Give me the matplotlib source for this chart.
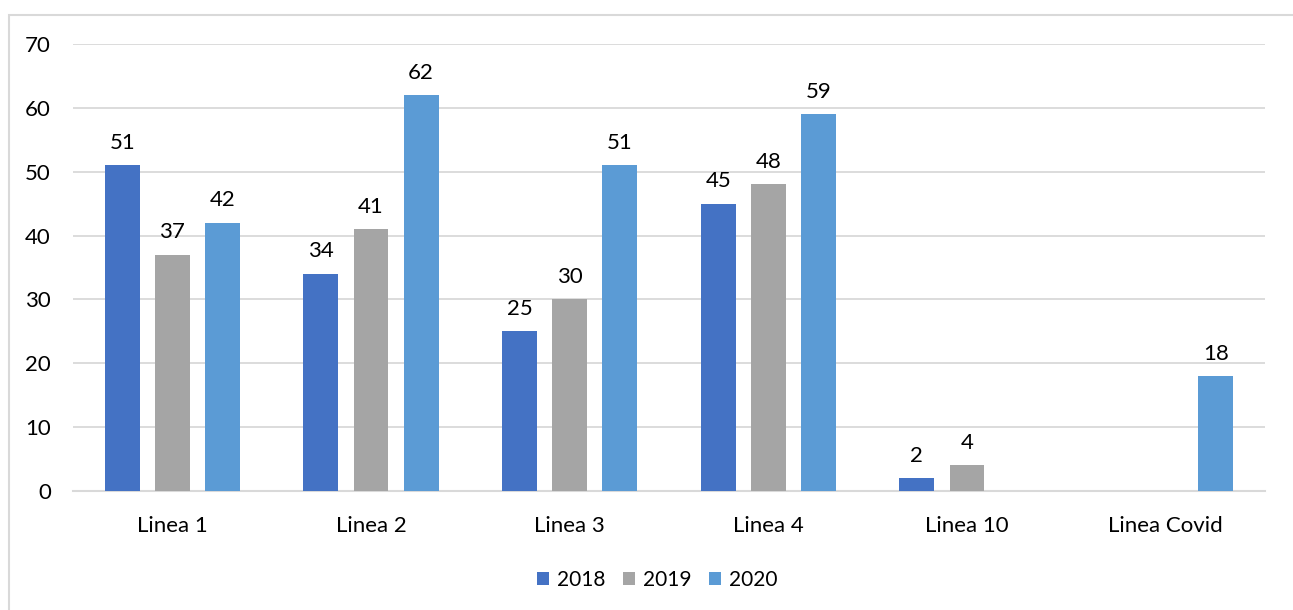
import numpy as np
import matplotlib.pyplot as plt
from matplotlib.patches import Rectangle

categories = ['Linea 1', 'Linea 2', 'Linea 3', 'Linea 4', 'Linea 10', 'Linea Covid']
years = ['2018', '2019', '2020']
values_2018 = [51, 34, 25, 45, 2, None]
values_2019 = [37, 41, 30, 48, 4, None]
values_2020 = [42, 62, 51, 59, None, 18]
colors = ['#4472C4', '#A5A5A5', '#5B9BD5']

plt.rcParams['font.family'] = ['Lato', 'DejaVu Sans']
fs = 16

fig = plt.figure(figsize=(12.93, 6.10), dpi=100)
ax = fig.add_axes([73/1293, 1 - 491/610, (1265 - 73)/1293, (491 - 44)/610])

x = np.arange(len(categories))
width = 0.176
step = 0.252
series = [values_2018, values_2019, values_2020]
for i, (yr, vals, c) in enumerate(zip(years, series, colors)):
    pos = [xi + (i - 1) * step for xi, v in zip(x, vals) if v is not None]
    hts = [v for v in vals if v is not None]
    bars = ax.bar(pos, hts, width, color=c, label=yr, zorder=3)
    for b, v in zip(bars, hts):
        ax.annotate(str(v), (b.get_x() + b.get_width()/2, v), xytext=(0, 9),
                    textcoords='offset points', ha='center', va='bottom',
                    fontsize=fs, color='#000000')

ax.set_xlim(-0.5, len(categories) - 0.5)
ax.set_ylim(0, 70)
ax.set_yticks(range(0, 71, 10))
ax.set_xticks(x)
ax.set_xticklabels(categories)
ax.yaxis.grid(True, color='#d9d9d9', linewidth=1.3, zorder=0)
for s in ['top', 'right', 'left']:
    ax.spines[s].set_visible(False)
ax.spines['bottom'].set_color('#d9d9d9')
ax.spines['bottom'].set_linewidth(1.5)
ax.tick_params(axis='both', length=0, labelsize=fs, colors='#000000')
ax.tick_params(axis='y', pad=16)
ax.tick_params(axis='x', pad=18)

ax.legend(loc='center', bbox_to_anchor=(657/1293, 1 - 580/610),
          bbox_transform=fig.transFigure, ncol=3, frameon=False,
          fontsize=15, handlelength=0.6, handleheight=0.6,
          handletextpad=0.35, columnspacing=0.85)

fig.patches.append(Rectangle((9/1293, -0.1), 2, 1 - 15/610 + 0.1,
                             transform=fig.transFigure, fill=False,
                             edgecolor='#d9d9d9', linewidth=1.5))

fig.savefig('out.png', dpi=100)
